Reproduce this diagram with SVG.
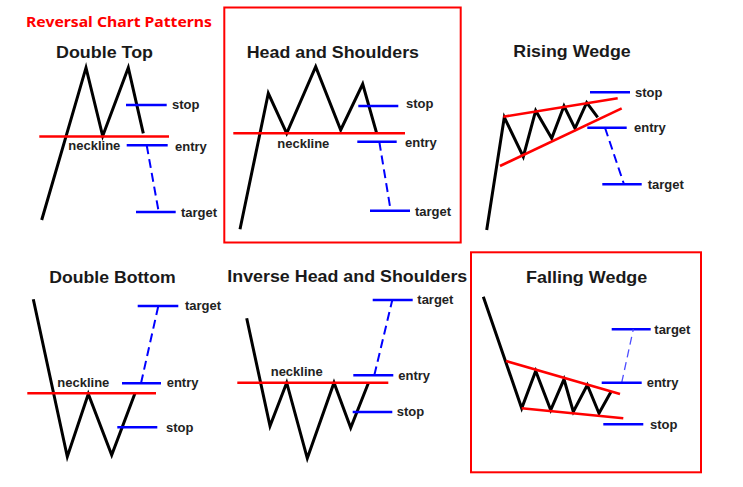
<svg xmlns="http://www.w3.org/2000/svg" width="743" height="487" viewBox="0 0 743 487">
<style>
.bg{fill:#fff}
.frame{fill:none;stroke:#ff0000;stroke-width:2}
.price{fill:none;stroke:#000;stroke-width:3;stroke-linejoin:miter;stroke-linecap:butt}
.neck{fill:none;stroke:#ff0000;stroke-width:2.6}
.lvl{fill:none;stroke:#0000ff;stroke-width:2.4}
.dash{fill:none;stroke:#0000ff;stroke-width:2;stroke-dasharray:9 5}
.dash2{fill:none;stroke:#4d4dff;stroke-width:1.3;stroke-dasharray:8 5}
.ttl{font-family:"Liberation Sans",Arial,sans-serif;font-weight:bold;font-size:16.5px;fill:#1a1a1a}
.lbl{font-family:"Liberation Sans",Arial,sans-serif;font-weight:bold;font-size:13px;fill:#222}
.head{font-family:"Noto Sans","Liberation Sans",sans-serif;font-weight:bold;font-size:15px;fill:#ff0000}
</style>
<rect class="bg" x="0" y="0" width="743" height="487"/>
<text class="head" x="26" y="26.5" textLength="186" lengthAdjust="spacingAndGlyphs">Reversal Chart Patterns</text>

<g id="double-top">
<text class="ttl" x="56" y="58.3" textLength="97" lengthAdjust="spacingAndGlyphs">Double Top</text>
<polyline class="price" points="41.7,220 86,67.7 102.7,136 128.3,67.7 143.3,133.3"/>
<line class="neck" x1="39.3" y1="136.5" x2="169" y2="136.5"/>
<text class="lbl" x="68.3" y="150">neckline</text>
<line class="lvl" x1="126" y1="105" x2="166.7" y2="105"/>
<text class="lbl" x="172" y="108.5">stop</text>
<line class="lvl" x1="126.7" y1="145.3" x2="167.7" y2="145.3"/>
<text class="lbl" x="175" y="151">entry</text>
<line class="dash" x1="146.7" y1="145.3" x2="158.7" y2="212"/>
<line class="lvl" x1="136" y1="212" x2="175.7" y2="212"/>
<text class="lbl" x="181" y="216.5">target</text>
</g>

<g id="head-and-shoulders">
<rect class="frame" x="224.3" y="7.5" width="236.4" height="235"/>
<text class="ttl" x="246.7" y="58.3" textLength="172.3" lengthAdjust="spacingAndGlyphs">Head and Shoulders</text>
<polyline class="price" points="240,229.3 268.3,93.3 286.7,133.3 315.7,66.7 340.7,130 362.7,84 376.7,133.3"/>
<line class="neck" x1="233.3" y1="133.3" x2="405" y2="133.3"/>
<text class="lbl" x="277.3" y="148">neckline</text>
<line class="lvl" x1="358.3" y1="106" x2="398.3" y2="106"/>
<text class="lbl" x="406" y="107.5">stop</text>
<line class="lvl" x1="357.3" y1="141.7" x2="396.7" y2="141.7"/>
<text class="lbl" x="405" y="147">entry</text>
<line class="dash" x1="379.3" y1="141.7" x2="390.7" y2="210.7"/>
<line class="lvl" x1="370" y1="210.7" x2="410" y2="210.7"/>
<text class="lbl" x="415" y="215.5">target</text>
</g>

<g id="rising-wedge">
<text class="ttl" x="513.3" y="57.3" textLength="117.4" lengthAdjust="spacingAndGlyphs">Rising Wedge</text>
<polyline class="price" points="486.7,230 504.3,117.3 523.3,156.7 535.7,110.7 551.7,138.3 564,106 575,128.3 586.7,102.7 597.7,117.3"/>
<line class="neck" x1="503.3" y1="116.7" x2="617.7" y2="98.3"/>
<line class="neck" x1="500" y1="166" x2="621.7" y2="108.3"/>
<line class="lvl" x1="590" y1="92.3" x2="630" y2="92.3"/>
<text class="lbl" x="635" y="96.5">stop</text>
<line class="lvl" x1="587.3" y1="127.7" x2="626.7" y2="127.7"/>
<text class="lbl" x="634" y="131.5">entry</text>
<line class="dash" x1="605" y1="127.7" x2="624" y2="184.3"/>
<line class="lvl" x1="602.3" y1="184.3" x2="641.7" y2="184.3"/>
<text class="lbl" x="647.7" y="189">target</text>
</g>

<g id="double-bottom">
<text class="ttl" x="49.3" y="283.3" textLength="126.4" lengthAdjust="spacingAndGlyphs">Double Bottom</text>
<polyline class="price" points="33.3,299.3 67.3,456.7 88.3,394 111.7,455 135,393.3"/>
<line class="neck" x1="27.3" y1="393.3" x2="156" y2="393.3"/>
<text class="lbl" x="57.3" y="387.3">neckline</text>
<line class="lvl" x1="122" y1="383.3" x2="161" y2="383.3"/>
<text class="lbl" x="166.7" y="387">entry</text>
<line class="dash" x1="141" y1="383.3" x2="158.3" y2="306"/>
<line class="lvl" x1="137.7" y1="306" x2="178.3" y2="306"/>
<text class="lbl" x="185" y="310">target</text>
<line class="lvl" x1="117.3" y1="427.3" x2="157.3" y2="427.3"/>
<text class="lbl" x="166" y="431.5">stop</text>
</g>

<g id="inverse-head-and-shoulders">
<text class="ttl" x="227.3" y="281.7" textLength="240" lengthAdjust="spacingAndGlyphs">Inverse Head and Shoulders</text>
<polyline class="price" points="246.7,318.3 270,426 286.7,382.7 307.3,458.3 334,382.7 350.7,427.7 368.3,383.3"/>
<line class="neck" x1="237.3" y1="382.7" x2="388.3" y2="382.7"/>
<text class="lbl" x="270.7" y="376">neckline</text>
<line class="lvl" x1="353.3" y1="375.3" x2="393.3" y2="375.3"/>
<text class="lbl" x="398.3" y="380">entry</text>
<line class="dash" x1="374.3" y1="375.3" x2="392.3" y2="300"/>
<line class="lvl" x1="372.7" y1="300" x2="412.7" y2="300"/>
<text class="lbl" x="417.3" y="304">target</text>
<line class="lvl" x1="352.7" y1="412" x2="392.3" y2="412"/>
<text class="lbl" x="396.7" y="416">stop</text>
</g>

<g id="falling-wedge">
<rect class="frame" x="471" y="252.3" width="230" height="220"/>
<text class="ttl" x="526" y="283.3" textLength="121.3" lengthAdjust="spacingAndGlyphs">Falling Wedge</text>
<polyline class="price" points="483.3,296.7 521.7,408.3 535.7,371 550.7,410 564,379.3 573.3,411.7 587.3,385 599,413.3 611,391.7"/>
<line class="neck" x1="506" y1="361" x2="620" y2="394"/>
<line class="neck" x1="521.7" y1="408.3" x2="623.3" y2="418.3"/>
<line class="lvl" x1="611.7" y1="329.3" x2="650.7" y2="329.3"/>
<text class="lbl" x="654.3" y="333.5">target</text>
<line class="dash2" x1="621.7" y1="382.7" x2="633.3" y2="329.3"/>
<line class="lvl" x1="601.7" y1="382.7" x2="641.7" y2="382.7"/>
<text class="lbl" x="646.7" y="387">entry</text>
<line class="lvl" x1="603.3" y1="424.3" x2="643.3" y2="424.3"/>
<text class="lbl" x="650" y="428.5">stop</text>
</g>
</svg>
